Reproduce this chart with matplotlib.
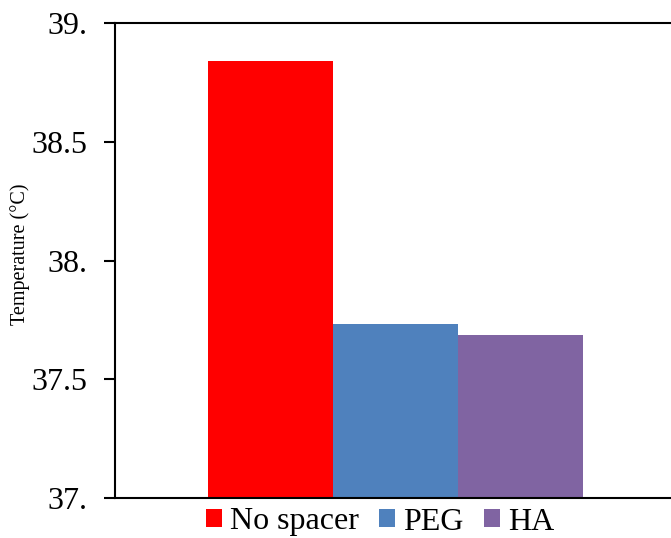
import matplotlib
matplotlib.use("Agg")
import matplotlib.pyplot as plt
from matplotlib.patches import Patch

plt.rcParams['font.family'] = ['Liberation Serif', 'DejaVu Serif']

# data
groups = ["No spacer", "PEG", "HA"]
temps = [38.84, 37.733, 37.685]
colors = ["#ff0000", "#4f81bd", "#8064a2"]
yticks = [37.0, 37.5, 38.0, 38.5, 39.0]
ytick_labels = ["37.", "37.5", "38.", "38.5", "39."]

fig = plt.figure(figsize=(6.71, 5.38), dpi=100)
ax = fig.add_axes([115 / 671, 1 - 498 / 538, 560 / 671, 475 / 538])

xpos = list(range(-1, len(groups) - 1))
ax.bar(xpos, [t - 37.0 for t in temps], bottom=37.0, width=1.0, color=colors)

ax.set_ylim(37.0, 39.0)
ax.set_xlim(-2.244, 2.236)
ax.set_yticks(yticks)
ax.set_yticklabels(ytick_labels, fontsize=23)
ax.set_xticks([])
ax.tick_params(axis='y', direction='out', length=8, width=1.5, pad=12)
ax.set_ylabel("Temperature (°C)", fontsize=14.5)
ax.yaxis.set_label_coords(-0.152, 0.514)
for s in ["left", "top", "bottom"]:
    ax.spines[s].set_linewidth(1.5)
ax.spines["right"].set_visible(False)

handles = [Patch(facecolor=c, edgecolor='none') for c in colors]
fig.legend(handles, groups, loc='center', bbox_to_anchor=(380 / 671, 1 - 522 / 538),
           ncol=3, frameon=False, fontsize=23, handlelength=0.52, handleheight=0.52,
           handletextpad=0.25, columnspacing=0.62, borderaxespad=0)

fig.savefig("out.png", dpi=100)
